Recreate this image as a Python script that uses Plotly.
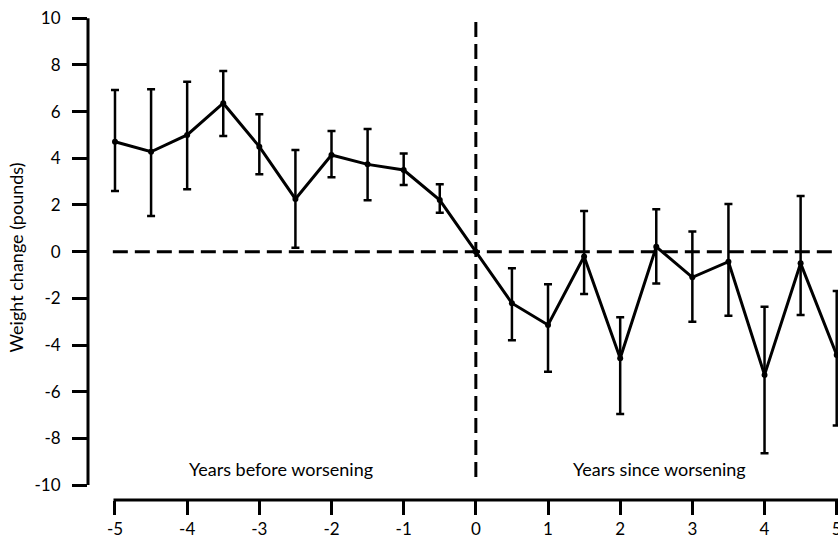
import plotly.graph_objects as go

# ---- data ----
years = [-5, -4.5, -4, -3.5, -3, -2.5, -2, -1.5, -1, -0.5, 0,
         0.5, 1, 1.5, 2, 2.5, 3, 3.5, 4, 4.5, 5]
weight_change = [4.71, 4.28, 5.0, 6.36, 4.5, 2.26, 4.14, 3.74, 3.5, 2.21, 0.0,
                 -2.21, -3.14, -0.21, -4.57, 0.21, -1.10, -0.43, -5.28, -0.5, -4.43]
upper = [6.93, 6.96, 7.28, 7.74, 5.89, 4.36, 5.17, 5.26, 4.21, 2.89, 0.0,
         -0.71, -1.40, 1.74, -2.81, 1.82, 0.86, 2.04, -2.36, 2.39, -1.68]
lower = [2.60, 1.53, 2.67, 4.96, 3.32, 0.17, 3.19, 2.20, 2.86, 1.67, 0.0,
         -3.80, -5.14, -1.81, -6.95, -1.36, -3.00, -2.75, -8.64, -2.71, -7.45]

x_ticks = [-5, -4, -3, -2, -1, 0, 1, 2, 3, 4, 5]
x_ticktext = ["-5", "-4", "-3", "-2", "-1", "0", "1", "2", "3", "4", "5"]
y_ticks = [-10, -8, -6, -4, -2, 0, 2, 4, 6, 8, 10]
y_ticktext = ["-10", "-8", "-6", "-4", "-2", "0", "2", "4", "6", "8", "10"]

err_plus = [u - m for u, m in zip(upper, weight_change)]
err_minus = [m - l for m, l in zip(weight_change, lower)]

FONT = "Lato, 'DejaVu Sans', sans-serif"
X_RANGE = [-5.374, 5.018]
Y_RANGE = [-10.64, 10.14]

def ypaper(v):
    return (v - Y_RANGE[0]) / (Y_RANGE[1] - Y_RANGE[0])

def xpaper(v):
    return (v - X_RANGE[0]) / (X_RANGE[1] - X_RANGE[0])

fig = go.Figure()
fig.add_trace(go.Scatter(
    x=years, y=weight_change, mode="lines+markers",
    line=dict(color="black", width=3),
    marker=dict(color="black", size=6),
    error_y=dict(type="data", symmetric=False, array=err_plus,
                 arrayminus=err_minus, color="black", thickness=2.5, width=4),
    showlegend=False, cliponaxis=False,
))

shapes = [
    # y axis line
    dict(type="line", xref="paper", yref="paper", x0=0, x1=0,
         y0=ypaper(-10), y1=ypaper(10), line=dict(color="black", width=3)),
    # x axis line (detached)
    dict(type="line", xref="paper", yref="paper", x0=xpaper(-5) - 0.002, x1=1.0,
         y0=0, y1=0, line=dict(color="black", width=3)),
    # horizontal dashed zero line
    dict(type="line", xref="paper", yref="paper", x0=xpaper(-5.03), x1=1.0,
         y0=ypaper(0), y1=ypaper(0),
         line=dict(color="black", width=3, dash="15px,7px")),
    # vertical dashed line at 0
    dict(type="line", xref="paper", yref="paper", x0=xpaper(0), x1=xpaper(0),
         y0=ypaper(-9.65), y1=ypaper(9.9),
         line=dict(color="black", width=3, dash="15px,7px")),
]

fig.update_layout(
    width=838, height=539,
    margin=dict(l=88, r=0, t=15, b=39, autoexpand=False),
    paper_bgcolor="white", plot_bgcolor="white",
    font=dict(family=FONT, color="black", size=17),
    shapes=shapes,
    xaxis=dict(range=X_RANGE, tickvals=x_ticks, ticktext=x_ticktext,
               ticks="outside", ticklen=14, tickwidth=3, tickcolor="black",
               showline=False, showgrid=False, zeroline=False, automargin=False,
               tickfont=dict(size=17), ticklabelstandoff=0,
               ticklabeloverflow="allow"),
    yaxis=dict(range=Y_RANGE, tickvals=y_ticks, ticktext=y_ticktext,
               ticks="outside", ticklen=15, tickwidth=3, tickcolor="black",
               showline=False, showgrid=False, zeroline=False, automargin=False,
               tickfont=dict(size=17), ticklabelstandoff=8,
               ticklabeloverflow="allow",
               title=dict(text="Weight change (pounds)", font=dict(size=18),
                          standoff=6)),
    annotations=[
        dict(x=-2.70, y=-9.31, xref="x", yref="y", text="Years before worsening",
             showarrow=False, font=dict(size=18)),
        dict(x=2.54, y=-9.31, xref="x", yref="y", text="Years since worsening",
             showarrow=False, font=dict(size=18)),
    ],
)

# remove the default page margin so the 838x539 figure fills the window exactly
fig.write_html(
    "out.html",
    config={"displayModeBar": False, "staticPlot": True},
    post_script="document.body.style.margin='0';document.body.style.overflow='hidden';",
)
